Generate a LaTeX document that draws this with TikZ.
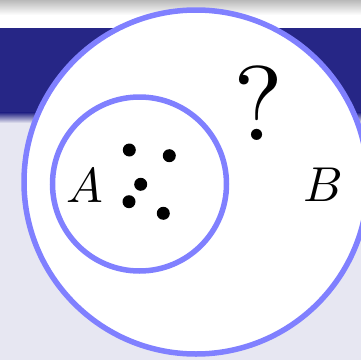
\documentclass[tikz,border=0pt]{standalone}
\usetikzlibrary{shadings}
\definecolor{bandblue}{RGB}{38,38,134}
\definecolor{lav}{RGB}{231,231,242}
\definecolor{ring}{RGB}{128,128,255}
\font\mylblfont=cmmi10 at 49pt
\font\myqfont=cmr10 at 106pt
\begin{document}
\begin{tikzpicture}[x=1pt,y=1pt,
  ringstyle/.style={circle,draw=ring,line width=5.5pt,fill=white,inner sep=0pt},
  dotstyle/.style={circle,fill=black,inner sep=0pt,minimum size=13pt},
  lbl/.style={inner sep=0pt,font=\mylblfont}]
\useasboundingbox (0,0) rectangle (361,360);
\fill[lav] (0,0) rectangle (361,360);
\fill[white] (0,332) rectangle (361,360);
\shade[top color=gray!55, bottom color=white] (0,345) rectangle (361,360);
\fill[bandblue] (0,247) rectangle (361,332);
\shade[top color=bandblue, bottom color=lav] (0,237) rectangle (361,247.5);
\node[ringstyle,minimum size=344pt] (outer) at (196,178) {};
\node[ringstyle,minimum size=174pt] (inner) at (139.5,176) {};
\node[dotstyle] (d1) at (129.3,210) {};
\node[dotstyle] (d2) at (169.3,204.3) {};
\node[dotstyle] (d3) at (140.7,175.7) {};
\node[dotstyle] (d4) at (129,158.3) {};
\node[dotstyle] (d5) at (163.3,146.7) {};
\node[lbl] (A) at (85,174) {A};
\node[lbl] (B) at (322,175) {B};
\node[inner sep=0pt,font=\myqfont] (q) at (259,256) {?};
\end{tikzpicture}
\end{document}
